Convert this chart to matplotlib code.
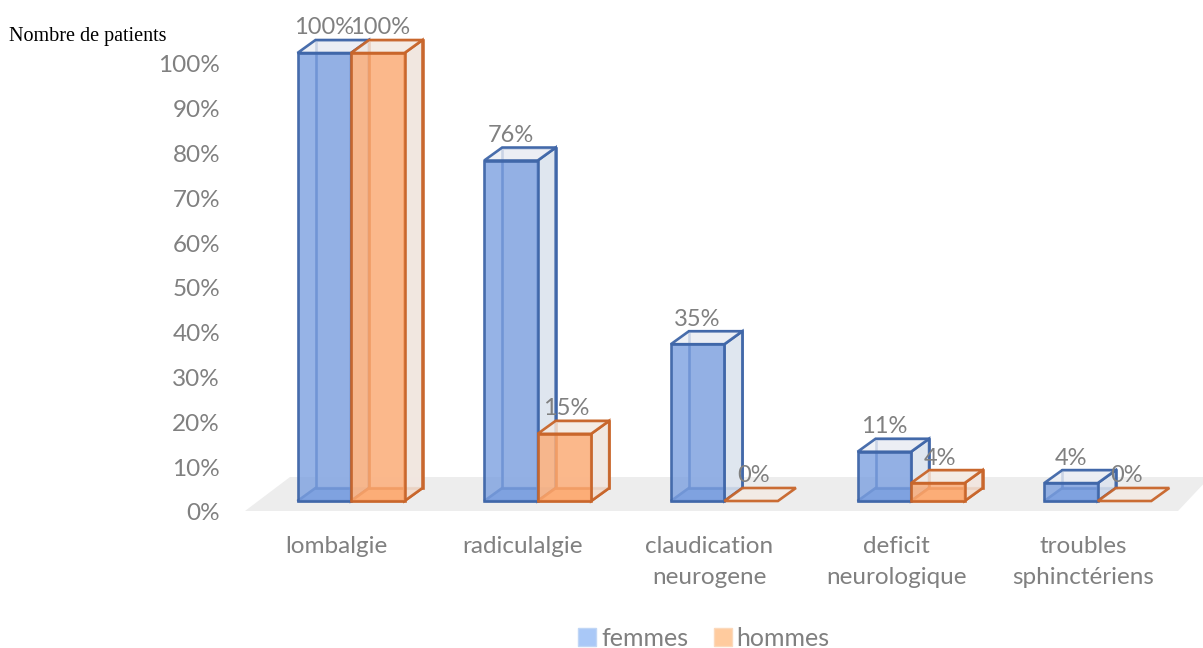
import matplotlib
matplotlib.use("Agg")
import matplotlib.pyplot as plt
from matplotlib.colors import to_rgba
from matplotlib.patches import Polygon, Patch

categories = ["lombalgie", "radiculalgie", "claudication\nneurogene", "deficit\nneurologique", "troubles\nsphinctériens"]
femmes = [100, 76, 35, 11, 4]
hommes = [100, 15, 0, 4, 0]
y_ticks = list(range(0, 101, 10))

# pixel scale of the picture: one category = 186.7 px, one percent = 4.48 px
W, H = 1203, 648
PX_X = 1 / 186.7
PX_Y = 1 / 4.48
X0, Y0 = 351, 501  # pixel of first category centre / zero line

GREY = "#808080"
BLUE = ("#3F66A8", "#7CA0E0", "#DDE4EE", "#EBEEF4")
ORANGE = ("#C8652A", "#FDAB74", "#F1E6DF", "#F4EBE4")
BAR_W = 53.5 * PX_X
DX = 18 * PX_X
DY = 13 * PX_Y


def face(ax, pts, fc, alpha, edge):
    # only the fill is see-through, the edge stays solid
    ax.add_patch(Polygon(pts, fc=to_rgba(fc, alpha), ec=to_rgba(edge, 0.95), lw=1.9, zorder=3))


def draw_box(ax, x, h, colors):
    edge, front, side, top = colors
    x1 = x + BAR_W
    # bottom, back, side and top faces first, then the see-through front
    if h > 0:
        face(ax, [(x, 0), (x + DX, DY), (x1 + DX, DY), (x1, 0)], front, 0.85, edge)
        face(ax, [(x + DX, DY), (x1 + DX, DY), (x1 + DX, h + DY), (x + DX, h + DY)], top, 0.75, edge)
        face(ax, [(x1, 0), (x1 + DX, DY), (x1 + DX, h + DY), (x1, h)], side, 0.85, edge)
    face(ax, [(x, h), (x + DX, h + DY), (x1 + DX, h + DY), (x1, h)], top, 0.8, edge)
    if h > 0:
        face(ax, [(x, 0), (x1, 0), (x1, h), (x, h)], front, 0.8, edge)


plt.rcParams["font.family"] = ["Lato", "DejaVu Sans"]
fig = plt.figure(figsize=(W / 100, H / 100), dpi=100)
ax = fig.add_axes([0, 0, 1, 1])
ax.set_xlim(-X0 * PX_X, (W - X0) * PX_X)
ax.set_ylim((Y0 - H) * PX_Y, Y0 * PX_Y)
ax.axis("off")

# floor
ax.add_patch(Polygon([((245 - X0) * PX_X, -10 * PX_Y), ((290 - X0) * PX_X, 24 * PX_Y),
                      ((1210 - X0) * PX_X, 24 * PX_Y), ((1178 - X0) * PX_X, -10 * PX_Y)],
                     fc="#EDEDED", ec="none", zorder=1))

for i, cat in enumerate(categories):
    draw_box(ax, i - BAR_W, femmes[i], BLUE)
    draw_box(ax, i, hommes[i], ORANGE)
    ax.text(i - BAR_W / 2, femmes[i] + 25 * PX_Y, f"{femmes[i]}%", ha="center", va="center",
            fontsize=17, color=GREY, zorder=5)
    ax.text(i + BAR_W / 2 + 2 * PX_X, hommes[i] + 25 * PX_Y, f"{hommes[i]}%", ha="center", va="center",
            fontsize=17, color=GREY, zorder=5)
    ax.text(i - 15 * PX_X, -35 * PX_Y, cat, ha="center", va="top", fontsize=17.5,
            color=GREY, linespacing=1.6, zorder=5)

for v in y_ticks:
    ax.text((220 - X0) * PX_X, v - 13 * PX_Y, f"{v}%", ha="right", va="center",
            fontsize=17.5, color=GREY)

ax.text((9 - X0) * PX_X, (Y0 - 36) * PX_Y, "Nombre de patients", ha="left", va="center",
        fontsize=14.5, color="black", family="Liberation Serif")

handles = [Patch(fc="#A9C8F7", ec="#C0D6F5", label="femmes"),
           Patch(fc="#FFCB9E", ec="#FBD9BC", label="hommes")]
ax.legend(handles=handles, loc="center", bbox_to_anchor=(704 / W, 1 - 638 / H),
          bbox_transform=fig.transFigure, ncol=2, frameon=False, fontsize=18,
          labelcolor=GREY, handlelength=0.72, handleheight=0.72, handletextpad=0.2, columnspacing=1.0)

fig.savefig("out.png", dpi=100)
